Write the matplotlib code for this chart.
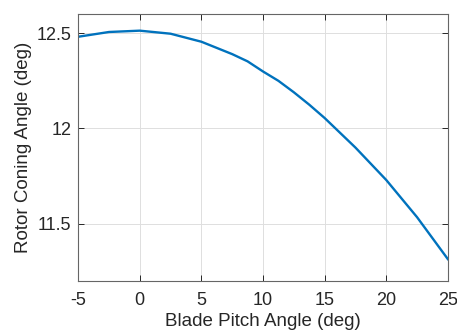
import matplotlib.pyplot as plt

# blade pitch angle (deg) and rotor coning angle (deg)
pitch = [-5, -2.5, 0, 2.5, 5, 7.5, 8.75, 10, 11.25, 12.5, 13.75, 15,
         17.5, 20, 22.5, 25]
coning = [12.481, 12.506, 12.513, 12.497, 12.455, 12.390, 12.352, 12.299,
          12.250, 12.190, 12.125, 12.055, 11.900, 11.730, 11.535, 11.315]

xticks = [-5, 0, 5, 10, 15, 20, 25]
yticks = [11.5, 12, 12.5]

plt.rcParams['font.family'] = ['Liberation Sans', 'DejaVu Sans']

fig = plt.figure(figsize=(4.57, 3.35), dpi=100)
ax = fig.add_axes([0.171, 0.161, 0.809, 0.797])

ax.plot(pitch, coning, color=(0, 0.447, 0.741), lw=1.7)

ax.set_xlim(-5, 25)
ax.set_ylim(11.2, 12.6)
ax.set_xticks(xticks)
ax.set_yticks(yticks)
ax.set_xticklabels([str(t) for t in xticks])
ax.set_yticklabels(['11.5', '12', '12.5'])

ax.grid(True, color='0.87', lw=0.7)
ax.tick_params(direction='in', top=True, right=True, length=4, width=0.7,
               colors='0.15', labelsize=13, labelcolor='0.15')
ax.tick_params(axis='x', pad=8)
ax.tick_params(axis='y', pad=5)
for s in ax.spines.values():
    s.set_color('0.4')
    s.set_linewidth(0.8)

ax.set_xlabel('Blade Pitch Angle (deg)', fontsize=13.5, color='0.15', labelpad=3)
ax.set_ylabel('Rotor Coning Angle (deg)', fontsize=13.5, color='0.15', labelpad=3)

fig.savefig('out.png')
